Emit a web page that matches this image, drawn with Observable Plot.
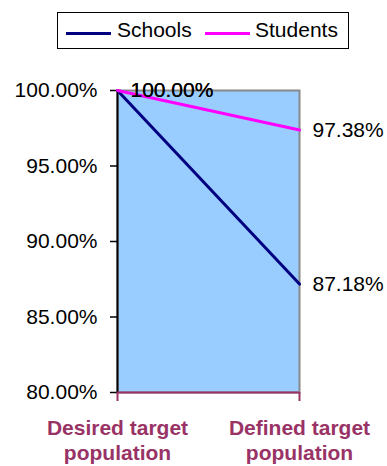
<!DOCTYPE html>
<html>
<head>
<meta charset="utf-8">
<script src="https://cdn.jsdelivr.net/npm/d3@7"></script>
<script src="https://cdn.jsdelivr.net/npm/@observablehq/plot@0.6"></script>
<style>
  html, body { margin: 0; padding: 0; background: #fff; }
  #wrap { position: relative; width: 387px; height: 466px; font-family: "Liberation Sans", Arial, sans-serif; }
  #legend { position: absolute; left: 57px; top: 12px; width: 290px; height: 35px; border: 1.5px solid #000; background: #fff; }
  .sw { position: absolute; top: 19px; width: 45px; height: 3px; }
  .lt { position: absolute; top: 5px; font-size: 21px; line-height: 24px; color: #000; }
  #chart { position: absolute; left: 0; top: 60px; }
</style>
</head>
<body>
<div id="wrap">
  <div id="legend"></div>
  <div id="chart"></div>
</div>
<script>
const categories = ["Desired target population", "Defined target population"];
const categoryLines = ["Desired target\npopulation", "Defined target\npopulation"];
const seriesNames = ["Schools", "Students"];
const schools = [100.00, 87.18];
const students = [100.00, 97.38];
const yTicks = [80, 85, 90, 95, 100];
const colors = ["#000080", "#FF00FF"];

const data = [];
categories.forEach((c, i) => {
  data.push({category: c, series: "Schools", value: schools[i]});
  data.push({category: c, series: "Students", value: students[i]});
});

// legend
const legend = document.getElementById("legend");
const swX = [8, 147];
const txX = [59, 197];
seriesNames.forEach((s, i) => {
  const sw = document.createElement("div");
  sw.className = "sw";
  sw.style.left = swX[i] + "px";
  sw.style.background = colors[i];
  legend.appendChild(sw);
  const t = document.createElement("div");
  t.className = "lt";
  t.style.left = txX[i] + "px";
  t.textContent = s;
  legend.appendChild(t);
});

const plot = Plot.plot({
  width: 387,
  height: 406,
  marginTop: 30,
  marginBottom: 74,
  marginLeft: 117,
  marginRight: 88,
  style: {fontFamily: "Liberation Sans, Arial, sans-serif", fontSize: "21px", background: "transparent", overflow: "visible"},
  x: {type: "point", domain: categories, padding: 0, align: 0.5, label: null},
  y: {domain: [80, 100], label: null},
  color: {domain: seriesNames, range: colors},
  marks: [
    Plot.frame({fill: "#99CCFF", stroke: "#888888", strokeWidth: 2}),
    Plot.axisY({
      ticks: yTicks,
      tickSize: 7,
      tickPadding: 13,
      tickFormat: d => d.toFixed(2) + "%",
      stroke: "#000",
      fill: "#000",
      strokeWidth: 1.5,
      label: null
    }),
    Plot.ruleX([categories[0]], {stroke: "#000", strokeWidth: 2}),
    Plot.axisX({
      tickSize: 9,
      tickPadding: 16,
      tickFormat: d => categoryLines[categories.indexOf(d)],
      stroke: "#993366",
      fill: "#993366",
      fontWeight: "bold",
      lineHeight: 1.18,
      strokeWidth: 2,
      label: null
    }),
    Plot.ruleY([80], {stroke: "#993366", strokeWidth: 2}),
    Plot.line(data, {x: "category", y: "value", z: "series", stroke: "series", strokeWidth: 3}),
    Plot.text(data, {
      x: "category", y: "value",
      text: d => d.value.toFixed(2) + "%",
      textAnchor: "start", dx: 13, fill: "#000"
    })
  ]
});
document.getElementById("chart").appendChild(plot);
</script>
</body>
</html>
